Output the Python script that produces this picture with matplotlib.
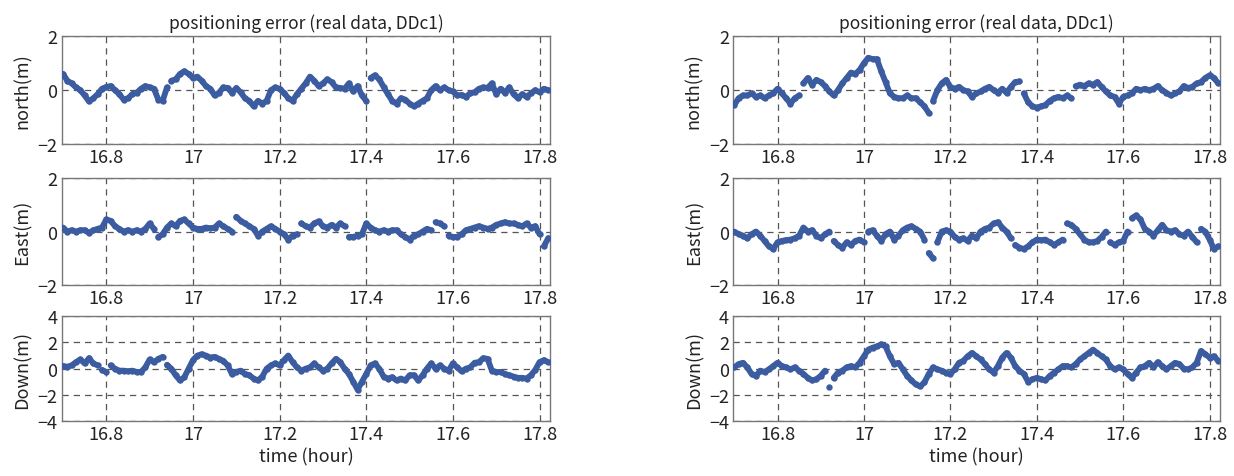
import numpy as np
import matplotlib
matplotlib.use("Agg")
import matplotlib.pyplot as plt

plt.rcParams['font.family'] = ['Noto Sans CJK JP', 'DejaVu Sans']

# time axis (hour), sampled every 0.01 h
hours = [round(16.70 + 0.01 * i, 2) for i in range(113)]

# ---- left column (first run) ----
north_left = [0.6, 0.35, 0.25, 0.1, 0.0, -0.2, -0.42, -0.3, -0.15, 0.05,
              0.12, 0.15, 0.0, -0.15, -0.35, -0.3, -0.15, -0.1, 0.05, 0.15,
              0.1, 0.05, -0.35, -0.4, 0.1, 0.35, 0.4, 0.6, 0.7, 0.6,
              0.45, 0.5, 0.35, 0.15, 0.05, -0.2, -0.1, 0.1, 0.08, -0.1,
              0.08, -0.08, -0.3, -0.4, -0.6, -0.4, -0.5, -0.4, 0.0, 0.1,
              0.05, -0.1, -0.3, -0.4, -0.15, 0.05, 0.25, 0.5, 0.35, 0.15,
              0.25, 0.4, 0.3, 0.1, 0.08, 0.05, 0.25, -0.05, 0.15, -0.2,
              -0.4, 0.45, 0.55, 0.4, 0.12, -0.15, -0.4, -0.5, -0.3, -0.35,
              -0.5, -0.6, -0.5, -0.4, -0.3, 0.0, 0.15, 0.0, 0.1, 0.0,
              -0.05, -0.2, -0.18, -0.25, -0.12, -0.08, 0.05, 0.1, 0.08, 0.25,
              -0.15, 0.05, -0.1, 0.1, -0.15, -0.3, -0.15, -0.25, -0.12, 0.0,
              -0.08, 0.05, 0.0]
north_left_breaks = [16.95, 17.41]

east_left = [0.15, 0.0, 0.05, 0.0, 0.05, 0.05, -0.05, 0.05, 0.1, 0.15,
             0.45, 0.4, 0.2, 0.1, 0.0, 0.05, 0.0, 0.05, 0.0, 0.1,
             0.3, 0.1, -0.2, -0.1, 0.15, 0.3, 0.2, 0.4, 0.45, 0.3,
             0.15, 0.1, 0.1, 0.15, 0.12, 0.15, 0.3, 0.2, 0.1, 0.0,
             0.55, 0.4, 0.3, 0.2, 0.1, -0.15, 0.0, 0.1, 0.2, 0.1,
             0.0, -0.1, -0.3, -0.15, -0.1, 0.3, 0.2, 0.15, 0.3, 0.38,
             0.2, 0.15, 0.25, 0.15, 0.3, 0.2, -0.2, -0.2, -0.15, -0.1,
             0.3, 0.15, 0.05, 0.0, 0.05, 0.0, 0.05, 0.05, -0.1, -0.2,
             -0.3, -0.15, -0.1, 0.0, 0.1, 0.05, 0.35, 0.3, 0.2, -0.15,
             -0.2, -0.2, -0.1, 0.05, 0.1, 0.15, 0.2, 0.15, 0.1, 0.15,
             0.25, 0.3, 0.35, 0.3, 0.3, 0.25, 0.2, 0.3, 0.15, 0.2,
             -0.1, -0.55, -0.25]
east_left_breaks = [16.92, 17.10, 17.25, 17.36, 17.56, 17.59, 17.81]

down_left = [0.2, 0.15, 0.25, 0.5, 0.7, 0.4, 0.8, 0.4, 0.25, -0.1,
             -0.25, 0.25, 0.0, -0.15, -0.15, -0.2, -0.15, -0.25, -0.25, 0.1,
             0.7, 0.5, 0.75, 0.9, 0.3, 0.0, -0.5, -0.9, -0.65, 0.0,
             0.65, 1.0, 1.1, 1.0, 0.85, 0.9, 0.75, 0.6, 0.25, -0.4,
             -0.25, -0.15, -0.4, -0.5, -0.75, -0.9, -0.6, 0.0, 0.25, 0.4,
             0.25, 0.65, 1.0, 0.5, 0.1, -0.15, 0.0, 0.1, 0.4, 0.1,
             -0.15, 0.0, 0.4, 0.75, 0.5, 0.0, -0.4, -1.0, -1.6, -1.0,
             -0.4, 0.25, 0.4, 0.0, -0.6, -0.75, -0.65, -0.9, -0.75, -0.9,
             -0.5, -0.5, -0.9, -0.5, 0.0, 0.4, 0.0, 0.25, 0.0, -0.15,
             0.4, 0.1, -0.2, 0.0, 0.1, 0.45, 0.5, 0.8, 0.75, -0.15,
             -0.25, -0.25, -0.4, -0.5, -0.6, -0.7, -0.7, -0.75, -0.5, -0.1,
             0.5, 0.65, 0.5]
down_left_breaks = [16.79, 16.81, 16.94]

# ---- right column (second run) ----
north_right = [-0.55, -0.3, -0.2, -0.2, -0.12, -0.25, -0.2, -0.3, -0.2, -0.12,
               0.05, -0.12, -0.3, -0.5, -0.3, -0.2, 0.25, 0.45, 0.2, 0.38,
               0.3, 0.15, -0.05, -0.2, 0.0, 0.25, 0.45, 0.65, 0.6, 0.75,
               1.0, 1.2, 1.15, 1.15, 0.7, 0.3, -0.12, -0.25, -0.3, -0.3,
               -0.2, -0.3, -0.3, -0.45, -0.6, -0.85, -0.4, 0.0, 0.25, 0.38,
               0.12, 0.05, 0.12, 0.0, -0.05, -0.25, -0.12, -0.05, 0.05, 0.12,
               0.0, -0.1, 0.05, -0.1, 0.12, 0.3, 0.32, -0.12, -0.45, -0.6,
               -0.65, -0.6, -0.55, -0.4, -0.3, -0.25, -0.3, -0.2, -0.3, 0.15,
               0.2, 0.15, 0.25, 0.2, 0.3, 0.12, -0.05, -0.2, -0.25, -0.5,
               -0.25, -0.2, -0.12, 0.05, 0.0, 0.05, 0.0, 0.05, 0.15, 0.0,
               -0.1, -0.2, -0.12, -0.05, 0.15, 0.08, 0.12, 0.25, 0.3, 0.45,
               0.55, 0.45, 0.25]
north_right_breaks = [16.86, 17.16, 17.37, 17.49]

east_right = [0.0, -0.1, -0.15, -0.25, -0.1, 0.0, -0.15, -0.35, -0.55, -0.65,
              -0.4, -0.35, -0.32, -0.3, -0.25, -0.15, 0.15, 0.0, 0.05, -0.15,
              -0.25, -0.1, 0.0, -0.35, -0.5, -0.6, -0.4, -0.5, -0.35, -0.3,
              -0.4, 0.0, 0.05, -0.15, -0.35, -0.1, 0.0, -0.3, -0.15, 0.05,
              0.15, 0.2, 0.1, 0.0, -0.3, -0.8, -1.0, -0.4, 0.0, 0.05,
              0.0, -0.2, -0.3, -0.25, -0.35, -0.15, -0.25, 0.0, 0.1, 0.15,
              0.3, 0.35, 0.15, 0.0, -0.25, -0.5, -0.6, -0.65, -0.55, -0.4,
              -0.3, -0.32, -0.3, -0.4, -0.5, -0.4, -0.3, 0.3, 0.25, 0.1,
              -0.1, -0.3, -0.4, -0.4, -0.35, -0.2, 0.0, -0.4, -0.5, -0.4,
              -0.35, 0.0, 0.5, 0.6, 0.45, 0.1, 0.0, -0.15, 0.05, 0.25,
              0.05, 0.0, 0.05, -0.1, -0.15, 0.0, -0.2, -0.4, 0.1, 0.0,
              -0.3, -0.65, -0.55]
east_right_breaks = [16.93, 17.01, 17.15, 17.17, 17.35, 17.47, 17.57, 17.62, 17.78]

down_right = [0.1, 0.35, 0.45, 0.1, -0.4, -0.55, -0.15, -0.25, -0.05, 0.2,
              0.45, 0.2, 0.1, -0.05, 0.1, -0.15, -0.4, -0.7, -0.9, -0.8,
              -0.55, -0.15, -1.4, -0.7, -0.3, -0.15, 0.1, 0.2, 0.1, 0.45,
              0.95, 1.45, 1.6, 1.7, 1.85, 1.7, 0.95, 0.35, 0.45, -0.05,
              -0.55, -0.9, -1.2, -1.35, -1.05, -0.4, 0.1, -0.05, -0.15, -0.3,
              -0.4, -0.05, 0.45, 0.6, 0.95, 1.2, 0.95, 0.7, 0.35, -0.05,
              -0.3, 0.2, 0.85, 1.2, 0.85, 0.2, -0.15, -0.4, -1.0, -0.8,
              -0.7, -0.8, -0.9, -0.55, -0.3, -0.05, 0.2, 0.2, 0.1, 0.35,
              0.7, 0.95, 1.2, 1.45, 1.2, 0.95, 0.7, 0.2, -0.05, 0.1,
              -0.05, -0.4, -0.7, -0.3, 0.1, 0.2, 0.45, 0.1, 0.5, 0.2,
              -0.05, 0.2, 0.45, 0.35, 0.0, -0.05, 0.1, 0.45, 1.35, 1.1,
              0.85, 0.95, 0.6]
down_right_breaks = [16.92, 16.93]

row_labels = ['north(m)', 'East(m)', 'Down(m)']
row_limits = [(-2, 2), (-2, 2), (-4, 4)]
row_yticks = [[-2, 0, 2], [-2, 0, 2], [-4, -2, 0, 2, 4]]
xticks = [16.8, 17.0, 17.2, 17.4, 17.6, 17.8]
xtick_labels = ['16.8', '17', '17.2', '17.4', '17.6', '17.8']
title = 'positioning error (real data, DDc1)'
xlabel = 'time (hour)'

columns = [
    [(north_left, north_left_breaks), (east_left, east_left_breaks), (down_left, down_left_breaks)],
    [(north_right, north_right_breaks), (east_right, east_right_breaks), (down_right, down_right_breaks)],
]

LINE_COLOR = '#3b5ca0'
GRID_COLOR = '#555555'


def with_breaks(t, v, breaks):
    tt, vv = [], []
    for ti, vi in zip(t, v):
        if any(abs(ti - b) < 1e-6 for b in breaks):
            tt.append(ti - 0.005)
            vv.append(np.nan)
        tt.append(ti)
        vv.append(vi)
    return np.array(tt), np.array(vv)


fig = plt.figure(figsize=(12.34, 4.77), dpi=100)
fig.patch.set_facecolor('white')

col_x = [(0.050, 0.446), (0.594, 0.989)]
row_y = [(0.696, 0.922), (0.400, 0.625), (0.115, 0.335)]

for c, (x0, x1) in enumerate(col_x):
    for r, (y0, y1) in enumerate(row_y):
        ax = fig.add_axes([x0, y0, x1 - x0, y1 - y0])
        vals, brks = columns[c][r]
        t, v = with_breaks(hours, vals, brks)
        ax.plot(t, v, color=LINE_COLOR, lw=4.2, marker='o', ms=4.6,
                markeredgewidth=0, solid_capstyle='round',
                solid_joinstyle='round', zorder=3)
        ax.set_xlim(16.697, 17.825)
        ax.set_ylim(*row_limits[r])
        ax.set_yticks(row_yticks[r])
        ax.set_xticks(xticks)
        ax.set_xticklabels(xtick_labels)
        ax.grid(True, color=GRID_COLOR, linestyle=(0, (5, 4)), linewidth=0.9, zorder=1)
        ax.tick_params(axis='both', length=0, labelsize=13, colors='#222222', pad=3)
        ax.set_ylabel(row_labels[r], fontsize=13, color='#222222', labelpad=4)
        for s in ax.spines.values():
            s.set_color('#777777')
            s.set_linewidth(1.0)
        if r == 0:
            ax.set_title(title, fontsize=12.5, color='#222222', pad=6)
        if r == 2:
            ax.set_xlabel(xlabel, fontsize=13, color='#222222', labelpad=3)

fig.savefig('out.png', dpi=100, facecolor='white')
